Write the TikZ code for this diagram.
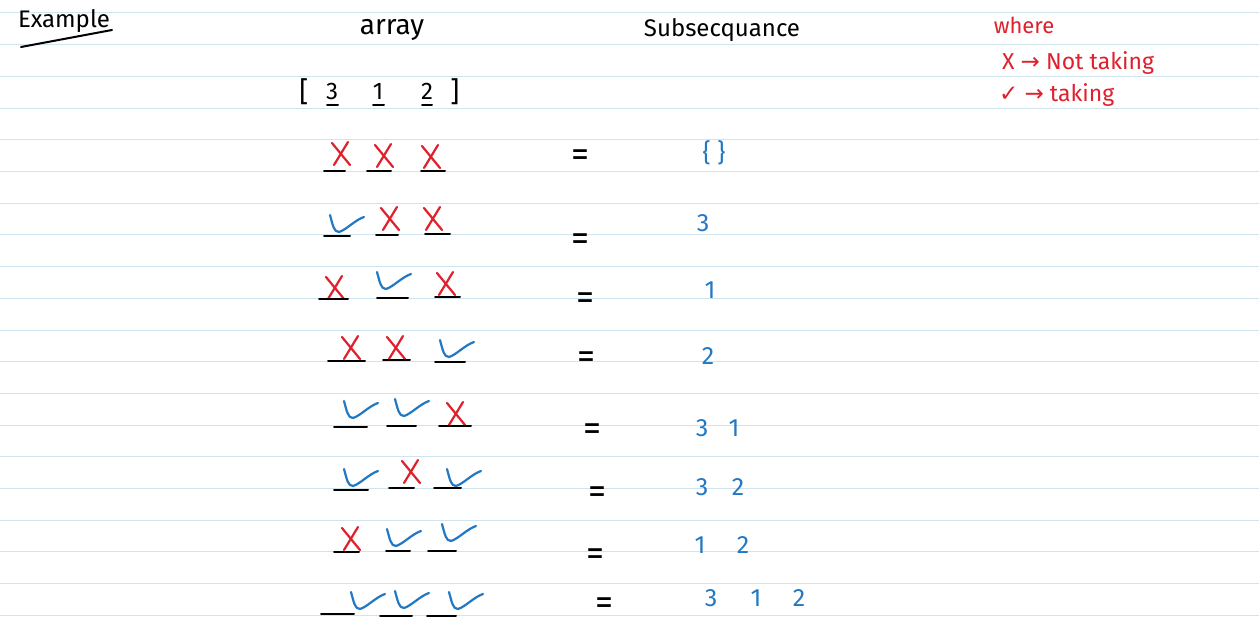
\documentclass[tikz,border=0pt]{standalone}
\usepackage{fontspec}
\setmainfont{Fira Sans}
\newfontfamily\symfont{DejaVu Sans}
\definecolor{rule}{HTML}{CFE4EC}
\definecolor{inkred}{HTML}{E0202C}
\definecolor{inkblue}{HTML}{2278C3}
\tikzset{
  x=1pt, y=-1pt,
  pen/.style={line width=2.2pt, line cap=round, line join=round},
  uline/.style={pen, black, line width=2pt},
  xmark/.pic={\draw[pen, inkred] (-8,-12) -- (10,10); \draw[pen, inkred] (8,-13) -- (-6,10);},
  vmark/.pic={\draw[pen, inkblue] (-13,-9) .. controls (-10,2) and (-9,8) .. (-4,8) .. controls (3,6) and (12,-4) .. (21,-7);},
  bluetxt/.style={inkblue, font=\fontsize{25}{27}\selectfont, inner sep=0pt},
  eqtxt/.style={black, font=\fontsize{36}{38}\selectfont, inner sep=0pt},
  headtxt/.style={black, font=\fontsize{22}{24}\selectfont, inner sep=0pt},
  legtxt/.style={inkred, font=\fontsize{23}{25}\selectfont, inner sep=0pt, anchor=west},
}
\newcommand{\ul}[3]{\draw[uline] (#1,#3) -- (#2,#3);}
\begin{document}
\begin{tikzpicture}
\useasboundingbox[fill=white] (0,0) rectangle (1259,626);
\foreach \k in {0,...,19} {\draw[rule, line width=1pt] (0,13+31.7*\k) -- (1259,13+31.7*\k);}
% header
\node[headtxt, font=\fontsize{24}{26}\selectfont] (example) at (64,21) {Example};
\draw[uline] (21,47) -- (112,30);
\node[headtxt, font=\fontsize{28}{30}\selectfont] (array) at (392,30) {array};
\node[headtxt, font=\fontsize{24}{26}\selectfont] (subseq) at (722,30) {Subsecquance};
\node[inkred, font=\fontsize{22}{24}\selectfont, inner sep=0pt] (where) at (1024,25) {where};
\node[legtxt] (leg1) at (1002,63) {X {\symfont→} Not taking};
\node[legtxt] (leg2) at (999,95) {{\symfont✓} {\symfont→} taking};
% array
\node[headtxt, font=\fontsize{28}{30}\selectfont] (lb) at (304,92) {[};
\node[headtxt, font=\fontsize{24}{26}\selectfont] (a1) at (332,91) {3};
\node[headtxt, font=\fontsize{24}{26}\selectfont] (a2) at (378,91) {1};
\node[headtxt, font=\fontsize{24}{26}\selectfont] (a3) at (427,91) {2};
\node[headtxt, font=\fontsize{28}{30}\selectfont] (rb) at (455,92) {]};
\ul{327}{338}{105}\ul{373}{384}{105}\ul{422}{432}{105}
% row 1
\pic at (340,155) {xmark}; \pic at (383,157) {xmark}; \pic at (430,158) {xmark};
\ul{324}{345}{171}\ul{367}{391}{171}\ul{421}{445}{171}
\node[eqtxt] (e1) at (580,158) {=};
\node[bluetxt] (s1) at (714,153) {\{ \}};
% row 2
\pic at (343,224) {vmark}; \pic at (389,220) {xmark}; \pic at (432,220) {xmark};
\ul{324}{350}{236}\ul{376}{398}{235}\ul{425}{450}{234}
\node[eqtxt] (e2) at (580,242) {=};
\node[bluetxt] (s2) at (703,223) {3};
% row 3
\pic at (334,289) {xmark}; \pic at (390,281) {vmark}; \pic at (445,285) {xmark};
\ul{319}{348}{299}\ul{377}{408}{298}\ul{435}{460}{297}
\node[eqtxt] (e3) at (585,301) {=};
\node[bluetxt] (s3) at (710,290) {1};
% row 4
\pic at (350,349) {xmark}; \pic at (395,349) {xmark}; \pic at (453,349) {vmark};
\ul{328}{365}{361}\ul{383}{410}{360}\ul{435}{465}{362}
\node[eqtxt] (e4) at (586,360) {=};
\node[bluetxt] (s4) at (708,356) {2};
% row 5
\pic at (357,410) {vmark}; \pic at (408,408) {vmark}; \pic at (455,415) {xmark};
\ul{334}{367}{427}\ul{387}{416}{426}\ul{439}{471}{426}
\node[eqtxt] (e5) at (592,432) {=};
\node[bluetxt] (s5) at (702,428) {3}; \node[bluetxt] (s5b) at (734,428) {1};
% row 6
\pic at (357,478) {vmark}; \pic at (410,473) {xmark}; \pic at (460,478) {vmark};
\ul{334}{368}{490}\ul{389}{414}{488}\ul{434}{461}{488}
\node[eqtxt] (e6) at (597,495) {=};
\node[bluetxt] (s6) at (702,487) {3}; \node[bluetxt] (s6b) at (738,487) {2};
% row 7
\pic at (350,540) {xmark}; \pic at (400,538) {vmark}; \pic at (455,533) {vmark};
\ul{334}{359}{552}\ul{386}{410}{551}\ul{428}{456}{551}
\node[eqtxt] (e7) at (595,557) {=};
\node[bluetxt] (s7) at (700,545) {1}; \node[bluetxt] (s7b) at (743,545) {2};
% row 8
\pic at (364,601) {vmark}; \pic at (408,600) {vmark}; \pic at (462,601) {vmark};
\ul{321}{354}{614}\ul{380}{412}{616}\ul{427}{456}{616}
\node[eqtxt] (e8) at (604,606) {=};
\node[bluetxt] (s8) at (711,598) {3}; \node[bluetxt] (s8b) at (756,598) {1}; \node[bluetxt] (s8c) at (799,598) {2};
\end{tikzpicture}
\end{document}
